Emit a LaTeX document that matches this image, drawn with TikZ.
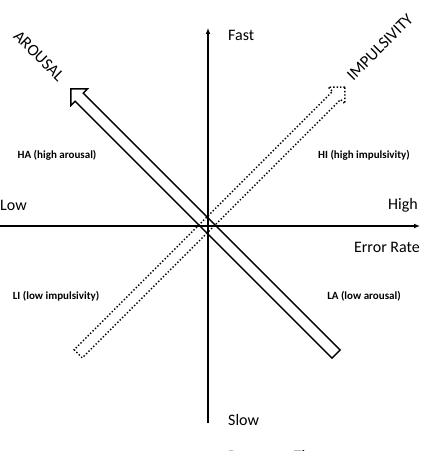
\documentclass[tikz,border=0pt]{standalone}
\usepackage{fontspec}
\setmainfont{Carlito}
\usetikzlibrary{arrows.meta,shapes.arrows}
\tikzset{
	bigarrow/.style = {single arrow, draw, line width=1.4pt, inner xsep=0pt, inner ysep=5pt,
		single arrow head extend=6pt, single arrow tip angle=90},
	axislabel/.style = {font=\fontsize{16}{18}\selectfont, inner sep=0pt},
	zonelabel/.style = {font=\fontsize{11}{13}\selectfont\bfseries, inner sep=0pt},
	namelabel/.style = {font=\fontsize{16.5}{19}\selectfont, inner sep=0pt}
}
\begin{document}
\begin{tikzpicture}[x = 1pt, y = 1pt]
					\useasboundingbox (0,0) rectangle (421,451);
					\coordinate (ybot) at (208,28);
					\coordinate (ytop) at (208,423);
					\coordinate (xleft) at (0,225);
					\coordinate (xright) at (420,225);
					\draw[line width=1.2pt, -{Latex[length=6pt,width=5pt]}] (ybot)--(ytop);
					\draw[line width=1.2pt, -{Latex[length=6pt,width=5pt]}] (xleft)--(xright);
					\node[bigarrow, minimum height=375pt, rotate=135] (arousal) at (205.5,227.5) {};
					\node[bigarrow, dotted, minimum height=377pt, rotate=45] (impulsivity) at (209.5,228.5) {};
					\node[axislabel, anchor=west] (fast) at (228,416) {Fast};
					\node[axislabel, anchor=west] (slow) at (228,31) {Slow};
					\node[axislabel, anchor=north west] (rt) at (228,1) {Response Time};
					\node[axislabel, anchor=west] (low) at (0,246) {Low};
					\node[axislabel, anchor=east] (high) at (418,246) {High};
					\node[axislabel, anchor=east] (er) at (420,204) {Error Rate};
					\node[zonelabel] (ha) at (57,296) {HA (high arousal)};
					\node[zonelabel] (hi) at (364,296) {HI (high impulsivity)};
					\node[zonelabel] (li) at (56,155) {LI (low impulsivity)};
					\node[zonelabel] (la) at (364,155) {LA (low arousal)};
					\node[namelabel, rotate=-45] (arousalname) at (39,395) {AROUSAL};
					\node[namelabel, rotate=45] (impname) at (380,404) {IMPULSIVITY};
				\end{tikzpicture}
\end{document}
